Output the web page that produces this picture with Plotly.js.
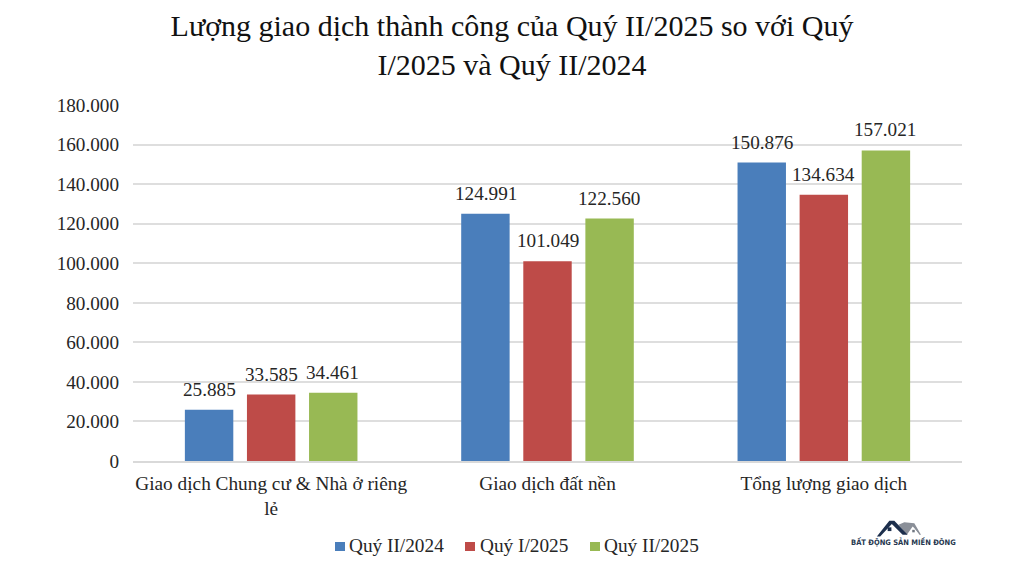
<!DOCTYPE html>
<html><head><meta charset="utf-8">
<script src="https://cdn.plot.ly/plotly-3.0.1.min.js"></script>
<style>html,body{margin:0;padding:0;background:#fff}#c{width:1024px;height:576px}</style>
</head><body><div id="c"></div>
<script>
const categories = ["Giao dịch Chung cư & Nhà ở riêng<br>lẻ", "Giao dịch đất nền", "Tổng lượng giao dịch"];
const q2_2024 = [25885, 124991, 150876];
const q1_2025 = [33585, 101049, 134634];
const q2_2025 = [34461, 122560, 157021];
const seriesNames = ["Quý II/2024", "Quý I/2025", "Quý II/2025"];
const seriesColors = ["#4a7ebb", "#be4b48", "#98b954"];
const tickVals = [0, 20000, 40000, 60000, 80000, 100000, 120000, 140000, 160000, 180000];
const titleText = "Lượng giao dịch thành công của Quý II/2025 so với Quý<br>I/2025 và Quý II/2024";
const font = "'Liberation Serif','Times New Roman',serif";
const allSeries = [q2_2024, q1_2025, q2_2025];

const logo = "data:image/svg+xml;utf8," + encodeURIComponent(
 '<svg xmlns="http://www.w3.org/2000/svg" viewBox="0 0 60 24" width="60" height="24">' +
 '<path d="M27 7 L34 4 L46 5 L54 19 L52 19 L44 9 L37 19 Z" fill="#8a8f98"/>' +
 '<path d="M38 19 L45 10 L52 19 Z" fill="#fff"/><rect x="43.5" y="13" width="3" height="3" fill="#6f7680"/>' +
 '<path d="M1 21 L16 2 L22 2 L38 19 L32 19 L19 6 L5 21 Z" fill="#1d2f4d"/>' +
 '<rect x="14" y="10" width="4.5" height="4.5" fill="#1d2f4d"/></svg>');

const traces = allSeries.map((vals, i) => ({
  type: "bar", name: seriesNames[i], x: categories, y: vals,
  marker: {color: seriesColors[i]}, hoverinfo: "skip"
}));

const fmt = v => String(v).replace(/\B(?=(\d{3})+$)/g, ".");
const px = x => (x - 133) / 829, py = y => (461 - y) / 356;

// Data labels sit on the bars through the category axis, lifted clear of the bar top.
const labels = [];
allSeries.forEach((vals, s) => vals.forEach((v, c) => labels.push({
  text: fmt(v), xref: "x", yref: "y", x: c + (s - 1) * 61.5 / 276, y: v, yshift: 8,
  xanchor: "center", yanchor: "bottom", showarrow: false,
  font: {family: font, size: 19.2, color: "#262626"}
})));

const legendText = [347, 478, 602], legendBox = [335, 465, 590];
const legendLabels = seriesNames.map((n, i) => ({
  text: n, xref: "paper", yref: "paper", x: px(legendText[i]), y: py(545), xanchor: "left", yanchor: "middle",
  showarrow: false, font: {family: font, size: 19.3, color: "#262626"}
}));
const legendShapes = seriesNames.map((n, i) => ({
  type: "rect", xref: "paper", yref: "paper", x0: px(legendBox[i]), x1: px(legendBox[i] + 10),
  y0: py(551), y1: py(542), fillcolor: seriesColors[i], line: {width: 0}
}));

const layout = {
  width: 1024, height: 576, paper_bgcolor: "#fff", plot_bgcolor: "#fff",
  separators: ",.",
  margin: {l: 133, r: 62, t: 105, b: 115},
  barmode: "group", bargap: 0.326, bargroupgap: 0.22,
  title: {text: titleText, font: {family: font, size: 30, color: "#111"}, x: 0.5, xref: "container", xanchor: "center", y: 0.9375, yanchor: "top"},
  xaxis: {type: "category", showgrid: false, ticks: "", showline: true, linecolor: "#d9d9d9", linewidth: 2, ticklabelstandoff: 4,
          tickfont: {family: font, size: 19.3, color: "#262626"}, automargin: false},
  yaxis: {range: [0, 180000], tickmode: "array", tickvals: tickVals, tickformat: ",d", ticklabelstandoff: 13,
          showgrid: true, gridcolor: "#dedede", gridwidth: 2, zeroline: false, showline: false, ticks: "",
          tickfont: {family: font, size: 19.2, color: "#262626"}, automargin: false},
  showlegend: false,
  shapes: legendShapes,
  images: [{source: logo, xref: "paper", yref: "paper", sizing: "contain", layer: "above",
            x: px(875), y: py(519), sizex: 52/829, sizey: 20/356, xanchor: "left", yanchor: "top"}],
  annotations: labels.concat(legendLabels, [{text: "<b>BẤT ĐỘNG SẢN MIỀN ĐÔNG</b>", xref: "paper", yref: "paper", showarrow: false,
                 x: px(903), y: py(542), xanchor: "center", yanchor: "middle",
                 font: {family: "'Liberation Sans Narrow','DejaVu Sans Condensed','Liberation Sans',sans-serif", size: 7.5, color: "#26374f"}}])
};
Plotly.newPlot("c", traces, layout, {displayModeBar: false, staticPlot: true});
</script></body></html>
